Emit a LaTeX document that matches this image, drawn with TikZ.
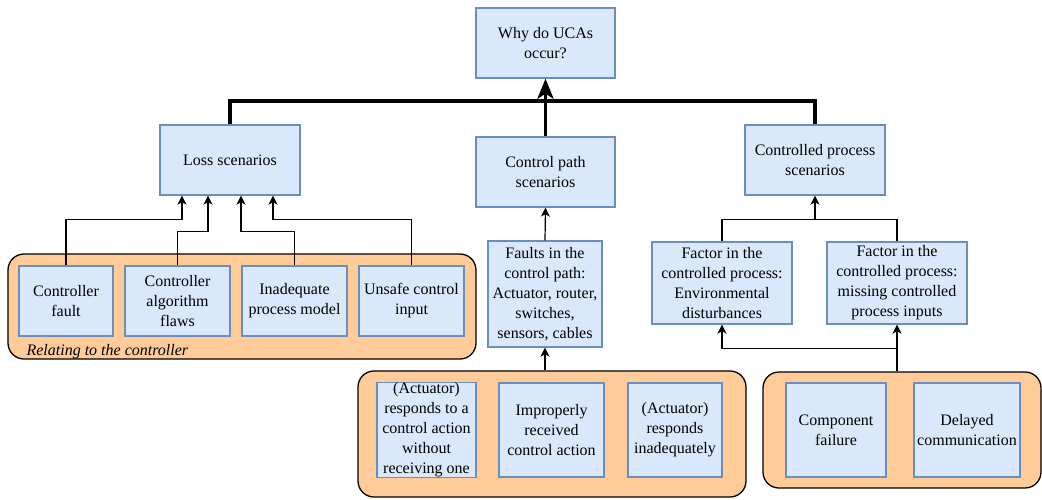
\documentclass[tikz,border=0pt]{standalone}
\usepackage{fontspec}
\setmainfont{Liberation Serif}
\usetikzlibrary{arrows.meta,positioning}
\definecolor{boxfill}{HTML}{DAE8FC}
\definecolor{boxline}{HTML}{6C8EBF}
\definecolor{grpfill}{HTML}{FFCC99}
\begin{document}
\begin{tikzpicture}[x=1pt,y=-1pt,
  box/.style={draw=boxline,fill=boxfill,line width=1.3pt,align=center,inner sep=0pt,
    font=\fontsize{16}{20}\selectfont},
  grp/.style={draw=black,fill=grpfill,line width=1.3pt,rounded corners=16pt,inner sep=0pt},
  arr/.style={line width=1.2pt,-{Stealth[length=9pt,width=9pt,inset=2.5pt]}},
  lin/.style={line width=1.2pt},
  thk/.style={line width=3.6pt},
]
\useasboundingbox (0,0) rectangle (1042,499);

% group containers
\node[grp,minimum width=468pt,minimum height=105pt] (lgrp) at (242,306.5) {};
\node[grp,minimum width=388pt,minimum height=126pt] (mgrp) at (552,434) {};
\node[grp,minimum width=278pt,minimum height=116pt] (rgrp) at (902,430) {};
\node[anchor=west,font=\fontsize{16}{20}\selectfont\itshape] (lgrplabel) at (23,352) {Relating to the controller};

% top levels
\node[box,minimum width=139pt,minimum height=70pt] (top) at (545.5,43) {Why do UCAs\\occur?};
\node[box,minimum width=140pt,minimum height=70pt] (loss) at (230,160) {Loss scenarios};
\node[box,minimum width=139pt,minimum height=70pt] (cpath) at (545.5,172) {Control path\\scenarios};
\node[box,minimum width=140pt,minimum height=70pt] (cproc) at (815,160) {Controlled process\\scenarios};

% controller causes
\node[box,minimum width=94pt,minimum height=70pt] (cf) at (66,301) {Controller\\fault};
\node[box,minimum width=105pt,minimum height=70pt] (caf) at (177.5,301) {Controller\\algorithm\\flaws};
\node[box,minimum width=105pt,minimum height=70pt] (ipm) at (294.5,301) {Inadequate\\process model};
\node[box,minimum width=105pt,minimum height=70pt] (uci) at (411.5,301) {Unsafe control\\input};

% control path
\node[box,minimum width=114pt,minimum height=106pt] (faults) at (545,294) {Faults in the\\control path:\\Actuator, router,\\switches,\\sensors, cables};
\node[box,minimum width=99pt,minimum height=94pt] (ra) at (426.5,430) {(Actuator)\\responds to a\\control action\\without\\receiving one};
\node[box,minimum width=105pt,minimum height=94pt] (irca) at (551.5,430) {Improperly\\received\\control action};
\node[box,minimum width=94pt,minimum height=94pt] (rinad) at (675,430) {(Actuator)\\responds\\inadequately};

% controlled process
\node[box,minimum width=140pt,minimum height=82pt] (env) at (722,283) {Factor in the\\controlled process:\\Environmental\\disturbances};
\node[box,minimum width=140pt,minimum height=82pt] (miss) at (897,283) {Factor in the\\controlled process:\\missing controlled\\process inputs};
\node[box,minimum width=100pt,minimum height=94pt] (comp) at (836,430) {Component\\failure};
\node[box,minimum width=106pt,minimum height=94pt] (delay) at (967,430) {Delayed\\communication};

% thick top-level connectors
\coordinate (join) at (545.5,101);
\draw[thk] (loss.north) |- (join);
\draw[thk] (cproc.north) |- (join);
\draw[thk,-{Stealth[length=20pt,width=16pt,inset=5pt]}] (cpath.north) -- (top.south);

% controller causes to loss scenarios
\draw[arr] (cf.north) |- ([xshift=-48pt,yshift=-24pt]loss.south) -- ([xshift=-48pt]loss.south);
\draw[arr] (caf.north) |- ([xshift=-22pt,yshift=-36pt]loss.south) -- ([xshift=-22pt]loss.south);
\draw[arr] (ipm.north) |- ([xshift=11pt,yshift=-36pt]loss.south) -- ([xshift=11pt]loss.south);
\draw[arr] (uci.north) |- ([xshift=43pt,yshift=-24pt]loss.south) -- ([xshift=43pt]loss.south);

% control path connectors
\draw[arr] (faults.north) -- (cpath.south);
\draw[arr] (faults.south |- mgrp.north) -- (faults.south);

% controlled process connectors
\draw[lin] (env.north) |- ([yshift=-24pt]cproc.south) -| (miss.north);
\draw[arr] ([yshift=-24pt]cproc.south) -- (cproc.south);
\draw[arr] (miss.south |- rgrp.north) -- (miss.south);
\draw[arr] ([yshift=-24pt]miss.south) -| (env.south);
\end{tikzpicture}
\end{document}
